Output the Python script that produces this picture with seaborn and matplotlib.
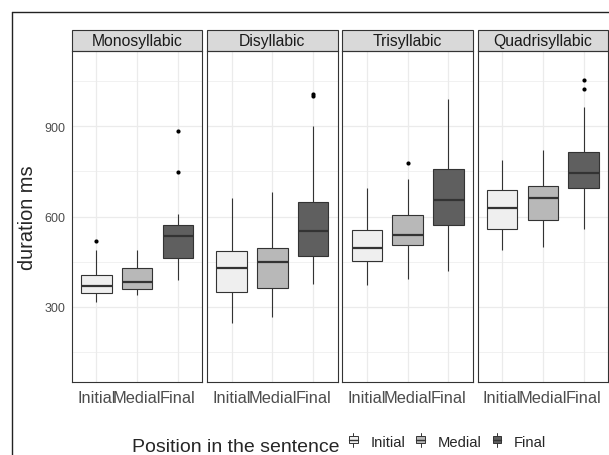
import pandas as pd
import numpy as np
import matplotlib
matplotlib.use("Agg")
import matplotlib.pyplot as plt
import seaborn as sns
from matplotlib.patches import Rectangle
from matplotlib.lines import Line2D
from matplotlib.legend_handler import HandlerBase
from matplotlib.ticker import FixedLocator

# word types (facets) and sentence positions
facets = ["Monosyllabic", "Disyllabic", "Trisyllabic", "Quadrisyllabic"]
positions = ["Initial", "Medial", "Final"]

# five-number summaries, one row per facet,
# columns in order Initial, Medial, Final
whisker_low = [[317, 339, 388], [248, 268, 376], [374, 394, 420], [488, 500, 558]]
lower_quart = [[345, 361, 463], [350, 364, 468], [453, 507, 571], [560, 588, 695]]
medians = [[368, 382, 534], [429, 450, 551], [496, 538, 654], [629, 661, 743]]
upper_quart = [[405, 430, 573], [485, 497, 649], [555, 604, 757], [687, 700, 815]]
whisker_high = [[488, 490, 607], [663, 682, 901], [693, 725, 989], [788, 820, 964]]

# outlying points (facet, position, duration)
outlier_facet = ["Monosyllabic", "Monosyllabic", "Monosyllabic", "Disyllabic", "Disyllabic",
                 "Trisyllabic", "Quadrisyllabic", "Quadrisyllabic"]
outlier_pos = ["Initial", "Final", "Final", "Final", "Final", "Medial", "Final", "Final"]
outlier_val = [518, 749, 882, 1000, 1008, 776, 1024, 1052]

fills = {"Initial": "#EFEFEF", "Medial": "#B8B8B8", "Final": "#5F5F5F"}
edge = "#333333"

rows = []
for i, f in enumerate(facets):
    for j, p in enumerate(positions):
        for v in (whisker_low[i][j], lower_quart[i][j], medians[i][j],
                  upper_quart[i][j], whisker_high[i][j]):
            rows.append({"facet": f, "position": p, "duration": v})
df = pd.DataFrame(rows)
out_df = pd.DataFrame({"facet": outlier_facet, "position": outlier_pos, "duration": outlier_val})

sns.set_style("white")
plt.rcParams["font.family"] = ["Liberation Sans", "DejaVu Sans"]

fig, axes = plt.subplots(1, 4, figsize=(6.09, 4.56), dpi=100, sharey=True)
fig.subplots_adjust(left=72 / 609, right=608 / 609, top=1 - 52 / 456, bottom=1 - 383 / 456,
                    wspace=0.038)

strip_h = 21 / 331
for k, (ax, f) in enumerate(zip(axes, facets)):
    sub = df[df["facet"] == f]
    sns.boxplot(data=sub, x="position", y="duration", hue="position", order=positions,
                hue_order=positions, palette=fills, whis=(0, 100), width=0.75,
                linewidth=0.8, linecolor=edge, fliersize=0, showcaps=False,
                medianprops={"linewidth": 1.6}, legend=False, ax=ax, zorder=2)
    outs = out_df[out_df["facet"] == f]
    if len(outs):
        sns.stripplot(data=outs, x="position", y="duration", order=positions, jitter=False,
                      color="black", size=3, linewidth=0, ax=ax, zorder=3)

    ax.set_xlim(-0.6, 2.6)
    ax.set_ylim(51, 1149)
    ax.set_yticks([300, 600, 900])
    ax.yaxis.set_minor_locator(FixedLocator([150, 450, 750, 1050]))
    ax.set_axisbelow(True)
    ax.grid(which="major", color="#EBEBEB", linewidth=0.9)
    ax.grid(which="minor", axis="y", color="#EBEBEB", linewidth=0.5)
    ax.set_xlabel("")
    ax.set_ylabel("")
    for s in ax.spines.values():
        s.set_color(edge)
        s.set_linewidth(0.8)
    ax.tick_params(axis="x", length=3, width=0.7, color=edge, pad=2.5,
                   labelsize=11.8, labelcolor="#4D4D4D")
    ax.tick_params(axis="y", which="major", length=3 if k == 0 else 0, width=0.7,
                   color=edge, pad=2, labelsize=9, labelcolor="#4D4D4D")
    ax.tick_params(axis="y", which="minor", length=0)

    ax.add_patch(Rectangle((0, 1), 1, strip_h, transform=ax.transAxes, clip_on=False,
                           facecolor="#D9D9D9", edgecolor=edge, linewidth=0.8))
    ax.text(0.5, 1 + strip_h / 2, f, transform=ax.transAxes, ha="center", va="center",
            fontsize=11.3, color="#1A1A1A")

axes[0].set_ylabel("duration ms", fontsize=14.4)
axes[0].yaxis.set_label_coords(-0.27, 0.5)

# outer frame
fx, fy = 12 / 609, 1 - 13 / 456
fig.add_artist(Line2D([fx, 1.0], [fy, fy], transform=fig.transFigure, color="#222222", lw=1))
fig.add_artist(Line2D([fx, fx], [0, fy], transform=fig.transFigure, color="#222222", lw=1))


class BoxKey(HandlerBase):
    def create_artists(self, legend, orig, xd, yd, w, h, fontsize, trans):
        cx = xd + w / 2
        line = Line2D([cx, cx], [yd - 0.1 * h, yd + 1.1 * h], color=edge, lw=0.7, transform=trans)
        rect = Rectangle((xd, yd + 0.2 * h), w, 0.6 * h, facecolor=orig.get_facecolor(),
                         edgecolor=edge, lw=0.7, transform=trans)
        mid = Line2D([xd, xd + w], [yd + 0.5 * h] * 2, color=edge, lw=1.0, transform=trans)
        return [line, rect, mid]


handles = [Rectangle((0, 0), 1, 1, facecolor=fills[p]) for p in positions]
fig.text(132 / 609, 1 - 451.7 / 456, "Position in the sentence", fontsize=14,
         ha="left", va="baseline")
fig.legend(handles, positions, handler_map={Rectangle: BoxKey()}, loc="center left",
           bbox_to_anchor=(349 / 609, 1 - 443 / 456), ncol=3, frameon=False,
           fontsize=10.6, handlelength=0.6, handleheight=0.8, handletextpad=0.85,
           columnspacing=0.75, borderpad=0, borderaxespad=0)

plt.savefig("out.png", dpi=100)
